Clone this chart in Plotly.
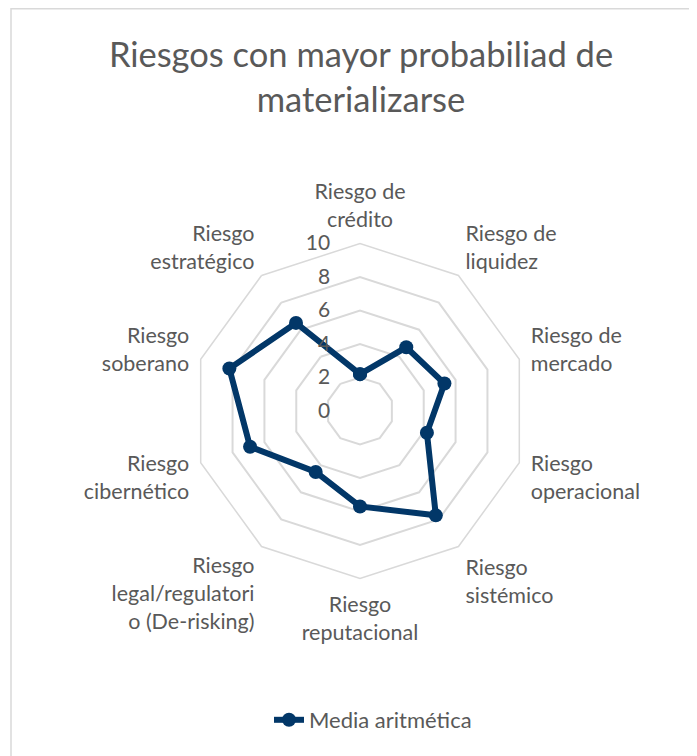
import plotly.graph_objects as go

categories = [
    "Riesgo de<br>crédito",
    "Riesgo de<br>liquidez",
    "Riesgo de<br>mercado",
    "Riesgo<br>operacional",
    "Riesgo<br>sistémico",
    "Riesgo<br>reputacional",
    "Riesgo<br>legal/regulatori<br>o (De-risking)",
    "Riesgo<br>cibernético",
    "Riesgo<br>soberano",
    "Riesgo<br>estratégico",
]
media_aritmetica = [2.2, 4.7, 5.3, 4.2, 7.7, 5.7, 4.5, 6.9, 8.2, 6.5]
radial_ticks = [0, 2, 4, 6, 8, 10]

# page body has an 8px margin, so the figure is sized to fit the window
W, H = 689, 748
FONT = "Lato"
TXT = "#595959"
GRID = "#d9d9d9"
NAVY = "#023768"

cx, cy, R = 352, 403, 167.5

fig = go.Figure()
fig.add_trace(go.Scatterpolar(
    r=media_aritmetica + [media_aritmetica[0]],
    theta=categories + [categories[0]],
    mode="lines+markers",
    name="Media aritmética",
    line=dict(color=NAVY, width=6),
    marker=dict(color=NAVY, size=14),
))

fig.update_layout(
    width=W, height=H,
    margin=dict(l=0, r=0, t=0, b=0),
    paper_bgcolor="white",
    plot_bgcolor="white",
    font=dict(family=FONT, color=TXT, size=21),
    title=dict(
        text="Riesgos con mayor probabiliad de<br>materializarse",
        x=353 / W, xanchor="center",
        y=1 - 59 / H, yanchor="top", yref="container",
        font=dict(family=FONT, size=34.5, color=TXT),
    ),
    polar=dict(
        domain=dict(x=[(cx - R) / W, (cx + R) / W],
                    y=[(H - cy - R) / H, (H - cy + R) / H]),
        bgcolor="white",
        gridshape="linear",
        radialaxis=dict(
            range=[0, 10],
            tickvals=radial_ticks,
            showline=False,
            ticks="outside",
            ticklen=22,
            tickcolor="rgba(0,0,0,0)",
            angle=90,
            side="counterclockwise",
            tickangle=90,
            gridcolor=GRID,
            gridwidth=1.5,
            tickfont=dict(family=FONT, size=21, color=TXT),
        ),
        angularaxis=dict(
            direction="clockwise",
            rotation=90,
            showgrid=False,
            showline=True,
            linecolor=GRID,
            linewidth=1.5,
            ticks="outside",
            ticklen=7,
            tickcolor="rgba(0,0,0,0)",
            tickfont=dict(family=FONT, size=21.5, color=TXT),
        ),
    ),
    showlegend=True,
    legend=dict(
        orientation="h",
        x=365 / W, xanchor="center",
        y=36 / H, yanchor="middle",
        font=dict(family=FONT, size=22, color=TXT),
    ),
    shapes=[dict(
        type="rect", xref="paper", yref="paper",
        x0=3 / W, y0=-0.01, x1=1.01, y1=1 - 0.8 / H,
        line=dict(color=GRID, width=1.5),
        fillcolor="rgba(0,0,0,0)",
        layer="below",
    )],
)

fig.write_html("out.html")
